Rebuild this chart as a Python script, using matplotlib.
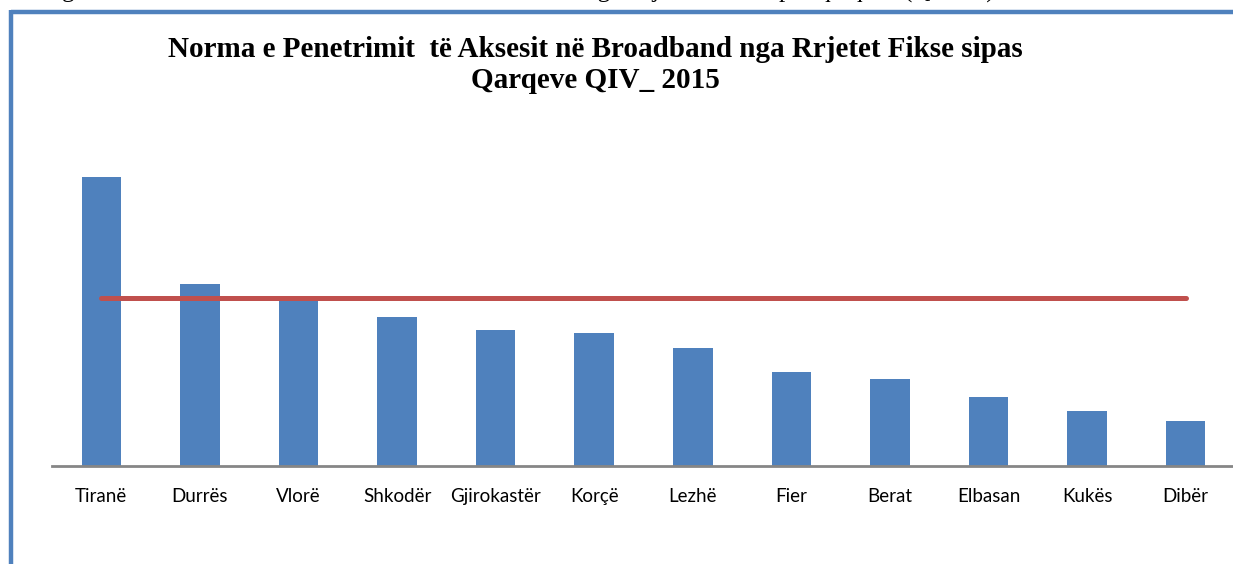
import matplotlib
matplotlib.use("Agg")
import matplotlib.pyplot as plt
from matplotlib.lines import Line2D

categories = ["Tiranë", "Durrës", "Vlorë", "Shkodër", "Gjirokastër", "Korçë",
              "Lezhë", "Fier", "Berat", "Elbasan", "Kukës", "Dibër"]
penetration = [14.45, 9.1, 8.5, 7.45, 6.8, 6.65, 5.9, 4.7, 4.35, 3.45, 2.75, 2.25]
national_avg = [8.4] * len(categories)

title_lines = ["Norma e Penetrimit  të Aksesit në Broadband nga Rrjetet Fikse sipas",
               "Qarqeve QIV_ 2015"]
caption = "Figura 8 Norma e Penetrimit të Aksesit në Broadband nga Rrjetet Fikse sipas qarqeve (QIV'15)"

W, H = 1233, 564
fig = plt.figure(figsize=(W / 100, H / 100), dpi=100)

# clipped caption from the document above (only its lowest part shows)
fig.text(995 / W, 1 + 2.5 / H, caption, ha="right", va="baseline",
         fontsize=18, family="Liberation Serif", color="black")

# blue frame of chart object
fig.add_artist(Line2D([10.5 / W, 1.0], [1 - 11.5 / H, 1 - 11.5 / H], color="#4F81BD",
                      lw=3.2, transform=fig.transFigure, solid_capstyle="butt"))
fig.add_artist(Line2D([10.5 / W, 10.5 / W], [1 - 10 / H, 0], color="#4F81BD",
                      lw=3.2, transform=fig.transFigure, solid_capstyle="butt"))

left, right, bottom, top = 52, 1235, 466, 146
ax = fig.add_axes([left / W, 1 - bottom / H, (right - left) / W, (bottom - top) / H])
x = list(range(len(categories)))
ax.bar(x, penetration, width=0.4, color="#4F81BD", zorder=2)
ax.plot(x, national_avg, color="#C0504D", lw=3.6, solid_capstyle="round", zorder=3)
ax.set_xlim(-0.5, len(categories) - 0.5)
ax.set_ylim(0, 16)
for s in ["top", "right", "left"]:
    ax.spines[s].set_visible(False)
ax.spines["bottom"].set_color("#868686")
ax.spines["bottom"].set_linewidth(2)
ax.set_yticks([])
ax.set_xticks(x)
ax.set_xticklabels(categories, family="Lato", fontsize=13.5, color="black")
ax.tick_params(axis="x", length=0, pad=16)
ax.patch.set_alpha(0)

fig.text(595 / W, 1 - 57 / H, title_lines[0], ha="center", va="baseline", fontsize=21,
         fontweight="bold", family="Liberation Serif")
fig.text(595 / W, 1 - 88 / H, title_lines[1], ha="center", va="baseline", fontsize=21,
         fontweight="bold", family="Liberation Serif")

fig.savefig("out.png", dpi=100)
